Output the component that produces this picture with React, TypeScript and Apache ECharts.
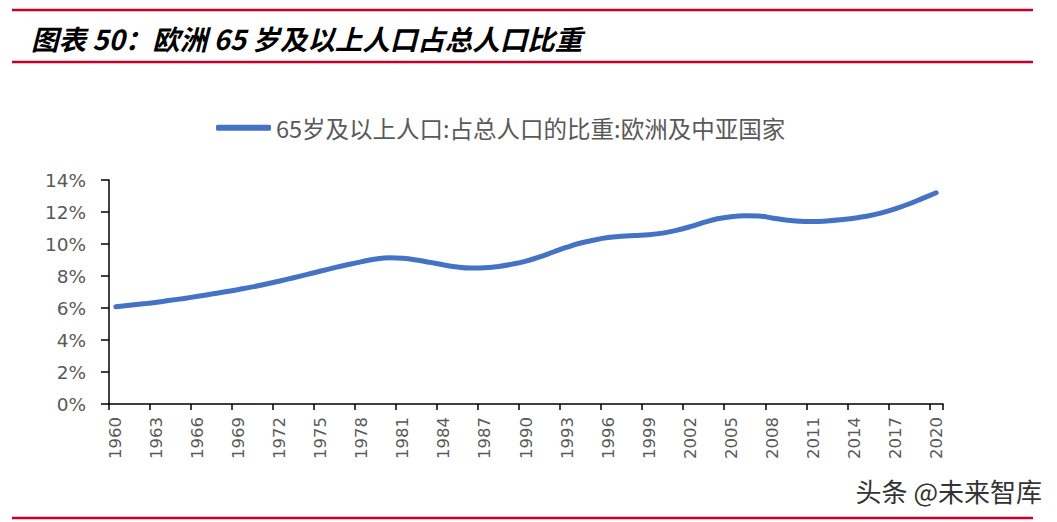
import React, { useEffect, useRef } from "react";
import * as echarts from "echarts";

const years: string[] = [];
for (let y = 1960; y <= 2020; y++) years.push(String(y));

// 65岁及以上人口占总人口的比重 (%), 欧洲及中亚国家, 1960–2020
const shareValues: number[] = [
  6.08, 6.17, 6.26, 6.36, 6.48, 6.6, 6.73, 6.87, 7.01, 7.16,
  7.32, 7.5, 7.69, 7.89, 8.1, 8.31, 8.52, 8.72, 8.9, 9.06,
  9.14, 9.11, 9.0, 8.85, 8.69, 8.56, 8.5, 8.52, 8.6, 8.74,
  8.93, 9.2, 9.5, 9.8, 10.06, 10.25, 10.4, 10.48, 10.53, 10.58,
  10.68, 10.85, 11.08, 11.35, 11.58, 11.71, 11.76, 11.75, 11.63, 11.5,
  11.42, 11.4, 11.44, 11.51, 11.61, 11.75, 11.95, 12.2, 12.5, 12.85,
  13.2,
];

const yTicks = { min: 0, max: 14, interval: 2 };

const titleText = "图表 50：欧洲 65 岁及以上人口占总人口比重";
const seriesName = "65岁及以上人口:占总人口的比重:欧洲及中亚国家";
const watermark = "头条 @未来智库";

export default function App() {
  const ref = useRef<HTMLDivElement>(null);
  useEffect(() => {
    if (!ref.current) return;
    const chart = echarts.init(ref.current, undefined, { renderer: "svg" });
    const red = "#C4002B";
    chart.setOption({
      animation: false,
      backgroundColor: "#ffffff",
      grid: { left: 109, right: 114, top: 180, bottom: 118 },
      legend: {
        show: true,
        left: 211,
        top: 111,
        icon: "roundRect",
        itemWidth: 55,
        itemHeight: 6,
        textStyle: {
          fontFamily: "Noto Sans CJK SC",
          fontSize: 23.5,
          color: "#595959",
        },
        data: [seriesName],
      },
      xAxis: {
        type: "category",
        data: years,
        boundaryGap: true,
        axisLine: { show: true, lineStyle: { color: "#000000", width: 1.5 } },
        axisTick: { show: true, interval: 2, length: 6, lineStyle: { color: "#000000", width: 1.5 } },
        axisLabel: {
          interval: 2,
          rotate: 90,
          margin: 13,
          fontFamily: "DejaVu Sans",
          fontSize: 16.5,
          color: "#595959",
        },
        splitLine: { show: false },
      },
      yAxis: {
        type: "value",
        min: yTicks.min,
        max: yTicks.max,
        interval: yTicks.interval,
        axisLine: { show: true, lineStyle: { color: "#000000", width: 1.5 } },
        axisTick: { show: true, length: 8, lineStyle: { color: "#000000", width: 1.5 } },
        axisLabel: {
          formatter: "{value}%",
          margin: 23,
          fontFamily: "DejaVu Sans",
          fontSize: 18.5,
          color: "#595959",
        },
        splitLine: { show: false },
      },
      series: [
        {
          name: seriesName,
          type: "line",
          data: shareValues,
          smooth: 0.4,
          showSymbol: false,
          symbol: "none",
          itemStyle: { color: "#4472C4" },
          lineStyle: { color: "#4472C4", width: 5, cap: "round", join: "round" },
        },
      ],
      graphic: [
        {
          type: "line",
          shape: { x1: 12, y1: 10, x2: 1033, y2: 10 },
          style: { stroke: red, lineWidth: 2.5 },
        },
        {
          type: "line",
          shape: { x1: 12, y1: 62, x2: 1033, y2: 62 },
          style: { stroke: red, lineWidth: 2.5 },
        },
        {
          type: "line",
          shape: { x1: 12, y1: 518, x2: 1033, y2: 518 },
          style: { stroke: red, lineWidth: 2.5 },
        },
        {
          type: "text",
          x: 31,
          y: 38,
          style: {
            text: titleText,
            fontFamily: "Noto Sans CJK SC",
            fontSize: 27.5,
            fontWeight: "bold",
            fontStyle: "italic",
            fill: "#000000",
            verticalAlign: "middle",
            align: "left",
          },
        },
        {
          type: "text",
          x: 1042,
          y: 490,
          style: {
            text: watermark,
            fontFamily: "Noto Sans CJK SC",
            fontSize: 26,
            fill: "#333333",
            stroke: "#ffffff",
            lineWidth: 2,
            verticalAlign: "middle",
            align: "right",
          },
        },
      ],
    });
    return () => chart.dispose();
  }, []);
  return (
    <div
      ref={ref}
      style={{ position: "fixed", left: 0, top: 0, width: 1057, height: 522 }}
    />
  );
}
